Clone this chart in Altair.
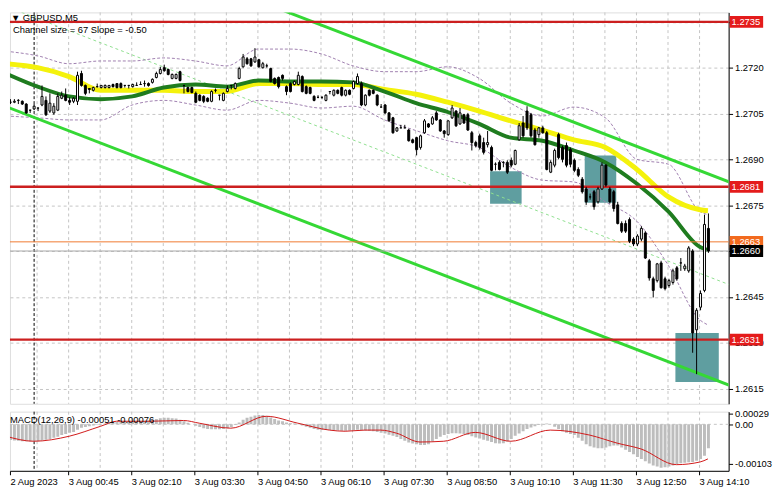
import altair as alt
import pandas as pd

FONT = "Liberation Sans"

# ---------------- candles (GBPUSD M5), bar index 0..178 ----------------
opens = [
    1.27090, 1.27087, 1.27087, 1.27093, 1.27090, 1.27081, 1.27061, 1.27065, 1.27068, 1.27078,
    1.27093, 1.27058, 1.27052, 1.27061, 1.27100, 1.27110, 1.27093, 1.27090, 1.27090, 1.27181,
    1.27142, 1.27132, 1.27126, 1.27138, 1.27135, 1.27135, 1.27135, 1.27145, 1.27148, 1.27148,
    1.27142, 1.27142, 1.27138, 1.27142, 1.27145, 1.27148, 1.27148, 1.27152, 1.27168, 1.27181,
    1.27200, 1.27194, 1.27165, 1.27165, 1.27187, 1.27142, 1.27135, 1.27135, 1.27116, 1.27110,
    1.27106, 1.27100, 1.27090, 1.27126, 1.27110, 1.27093, 1.27122, 1.27142, 1.27132, 1.27165,
    1.27203, 1.27229, 1.27229, 1.27219, 1.27226, 1.27200, 1.27206, 1.27197, 1.27165, 1.27168,
    1.27175, 1.27138, 1.27148, 1.27145, 1.27145, 1.27171, 1.27138, 1.27135, 1.27106, 1.27103,
    1.27103, 1.27093, 1.27122, 1.27110, 1.27126, 1.27135, 1.27110, 1.27126, 1.27132, 1.27148,
    1.27148, 1.27078, 1.27126, 1.27126, 1.27110, 1.27071, 1.27078, 1.27052, 1.27036, 1.26993,
    1.27003, 1.27003, 1.26996, 1.26964, 1.26971, 1.26939, 1.26987, 1.27016, 1.27016, 1.27052,
    1.27029, 1.26993, 1.26981, 1.27036, 1.27058, 1.27016, 1.27046, 1.27046, 1.26987, 1.26955,
    1.26977, 1.26955, 1.26948, 1.26939, 1.26884, 1.26890, 1.26890, 1.26890, 1.26897, 1.26884,
    1.26964, 1.27019, 1.27058, 1.27046, 1.26996, 1.26981, 1.27003, 1.26987, 1.26858, 1.26881,
    1.26981, 1.26939, 1.26945, 1.26932, 1.26897, 1.26867, 1.26835, 1.26803, 1.26777, 1.26794,
    1.26761, 1.26803, 1.26881, 1.26803, 1.26794, 1.26751, 1.26690, 1.26690, 1.26703, 1.26639,
    1.26623, 1.26639, 1.26659, 1.26568, 1.26509, 1.26503, 1.26561, 1.26509, 1.26487, 1.26497,
    1.26545, 1.26561, 1.26542, 1.26535, 1.26600, 1.26342, 1.26416, 1.26471, 1.26674,
]
closes = [
    1.27090, 1.27087, 1.27090, 1.27093, 1.27081, 1.27052, 1.27061, 1.27074, 1.27068, 1.27106,
    1.27046, 1.27084, 1.27074, 1.27106, 1.27110, 1.27093, 1.27087, 1.27100, 1.27175, 1.27142,
    1.27116, 1.27129, 1.27135, 1.27138, 1.27142, 1.27142, 1.27142, 1.27138, 1.27135, 1.27135,
    1.27142, 1.27142, 1.27145, 1.27142, 1.27145, 1.27148, 1.27142, 1.27162, 1.27181, 1.27194,
    1.27190, 1.27178, 1.27178, 1.27178, 1.27158, 1.27142, 1.27122, 1.27119, 1.27087, 1.27093,
    1.27090, 1.27090, 1.27122, 1.27126, 1.27110, 1.27116, 1.27132, 1.27142, 1.27148, 1.27197,
    1.27235, 1.27213, 1.27206, 1.27235, 1.27203, 1.27213, 1.27206, 1.27155, 1.27148, 1.27138,
    1.27165, 1.27122, 1.27122, 1.27155, 1.27175, 1.27122, 1.27116, 1.27116, 1.27093, 1.27103,
    1.27103, 1.27110, 1.27122, 1.27126, 1.27116, 1.27110, 1.27126, 1.27113, 1.27155, 1.27171,
    1.27078, 1.27110, 1.27110, 1.27116, 1.27078, 1.27071, 1.27052, 1.27026, 1.26987, 1.27003,
    1.27003, 1.27003, 1.26961, 1.26955, 1.26932, 1.26977, 1.27026, 1.27006, 1.27036, 1.27029,
    1.26993, 1.26984, 1.27026, 1.27068, 1.27010, 1.27052, 1.27019, 1.26996, 1.26955, 1.26945,
    1.26939, 1.26923, 1.26955, 1.26864, 1.26884, 1.26867, 1.26890, 1.26858, 1.26881, 1.26929,
    1.27010, 1.26977, 1.27003, 1.26977, 1.26948, 1.27003, 1.26987, 1.26867, 1.26890, 1.26929,
    1.26906, 1.26900, 1.26881, 1.26884, 1.26864, 1.26848, 1.26794, 1.26761, 1.26777, 1.26745,
    1.26803, 1.26881, 1.26816, 1.26761, 1.26739, 1.26690, 1.26665, 1.26665, 1.26632, 1.26623,
    1.26649, 1.26674, 1.26577, 1.26512, 1.26471, 1.26558, 1.26480, 1.26477, 1.26503, 1.26535,
    1.26509, 1.26561, 1.26551, 1.26610, 1.26332, 1.26406, 1.26461, 1.26687, 1.26600,
]
highs = [
    1.27097, 1.27097, 1.27097, 1.27097, 1.27093, 1.27084, 1.27061, 1.27081, 1.27068, 1.27142,
    1.27106, 1.27116, 1.27084, 1.27116, 1.27122, 1.27132, 1.27103, 1.27103, 1.27187, 1.27190,
    1.27145, 1.27132, 1.27138, 1.27148, 1.27142, 1.27145, 1.27142, 1.27148, 1.27148, 1.27152,
    1.27142, 1.27142, 1.27148, 1.27152, 1.27155, 1.27158, 1.27152, 1.27165, 1.27187, 1.27203,
    1.27210, 1.27197, 1.27181, 1.27181, 1.27190, 1.27142, 1.27138, 1.27138, 1.27122, 1.27113,
    1.27110, 1.27103, 1.27126, 1.27132, 1.27110, 1.27119, 1.27142, 1.27142, 1.27152, 1.27203,
    1.27245, 1.27235, 1.27232, 1.27264, 1.27229, 1.27219, 1.27213, 1.27200, 1.27168, 1.27171,
    1.27178, 1.27142, 1.27152, 1.27158, 1.27187, 1.27175, 1.27142, 1.27138, 1.27110, 1.27110,
    1.27106, 1.27113, 1.27122, 1.27129, 1.27129, 1.27138, 1.27129, 1.27129, 1.27158, 1.27181,
    1.27155, 1.27113, 1.27129, 1.27129, 1.27113, 1.27081, 1.27081, 1.27055, 1.27039, 1.27006,
    1.27013, 1.27013, 1.27000, 1.26968, 1.26974, 1.26981, 1.27032, 1.27019, 1.27042, 1.27058,
    1.27032, 1.26996, 1.27029, 1.27078, 1.27061, 1.27068, 1.27049, 1.27052, 1.26993, 1.26961,
    1.26984, 1.26971, 1.26993, 1.26945, 1.26890, 1.26897, 1.26894, 1.26897, 1.26906, 1.26932,
    1.27019, 1.27042, 1.27074, 1.27052, 1.27003, 1.27006, 1.27010, 1.26993, 1.26897, 1.26935,
    1.26987, 1.26945, 1.26955, 1.26939, 1.26903, 1.26874, 1.26842, 1.26810, 1.26788, 1.26800,
    1.26810, 1.26890, 1.26884, 1.26810, 1.26800, 1.26761, 1.26697, 1.26700, 1.26710, 1.26645,
    1.26655, 1.26681, 1.26665, 1.26574, 1.26516, 1.26561, 1.26568, 1.26516, 1.26509, 1.26542,
    1.26551, 1.26577, 1.26558, 1.26616, 1.26606, 1.26413, 1.26471, 1.26719, 1.26723,
]
lows = [
    1.27084, 1.27081, 1.27084, 1.27081, 1.27078, 1.27049, 1.27052, 1.27061, 1.27058, 1.27074,
    1.27042, 1.27052, 1.27046, 1.27058, 1.27097, 1.27090, 1.27078, 1.27084, 1.27078, 1.27138,
    1.27110, 1.27116, 1.27122, 1.27135, 1.27132, 1.27132, 1.27132, 1.27135, 1.27132, 1.27132,
    1.27135, 1.27132, 1.27135, 1.27142, 1.27145, 1.27138, 1.27138, 1.27148, 1.27165, 1.27178,
    1.27187, 1.27175, 1.27162, 1.27162, 1.27155, 1.27116, 1.27119, 1.27116, 1.27084, 1.27090,
    1.27084, 1.27087, 1.27087, 1.27119, 1.27093, 1.27090, 1.27119, 1.27129, 1.27129, 1.27162,
    1.27200, 1.27210, 1.27203, 1.27216, 1.27200, 1.27197, 1.27200, 1.27152, 1.27145, 1.27132,
    1.27158, 1.27110, 1.27119, 1.27142, 1.27142, 1.27119, 1.27113, 1.27113, 1.27090, 1.27100,
    1.27097, 1.27090, 1.27113, 1.27106, 1.27113, 1.27106, 1.27106, 1.27110, 1.27129, 1.27145,
    1.27074, 1.27074, 1.27106, 1.27113, 1.27074, 1.27071, 1.27049, 1.27023, 1.26984, 1.26990,
    1.27003, 1.27003, 1.26958, 1.26952, 1.26913, 1.26932, 1.26984, 1.27003, 1.27013, 1.27026,
    1.26990, 1.26971, 1.26977, 1.27032, 1.27006, 1.27013, 1.27016, 1.26993, 1.26929, 1.26939,
    1.26932, 1.26916, 1.26939, 1.26861, 1.26864, 1.26864, 1.26874, 1.26852, 1.26874, 1.26881,
    1.26961, 1.26971, 1.26996, 1.26971, 1.26945, 1.26971, 1.26984, 1.26864, 1.26855, 1.26874,
    1.26900, 1.26890, 1.26874, 1.26874, 1.26858, 1.26842, 1.26788, 1.26751, 1.26768, 1.26735,
    1.26755, 1.26800, 1.26810, 1.26755, 1.26729, 1.26687, 1.26659, 1.26659, 1.26626, 1.26616,
    1.26616, 1.26632, 1.26574, 1.26503, 1.26448, 1.26497, 1.26477, 1.26471, 1.26480, 1.26490,
    1.26503, 1.26535, 1.26535, 1.26529, 1.26267, 1.26197, 1.26406, 1.26465, 1.26594,
]
bar_index = list(range(len(closes)))

# ---------------- indicators ----------------
ind_index = [0, 8, 16, 24, 32, 40, 48, 56, 64, 72, 80, 88, 96, 104, 112, 120,
             128, 136, 144, 152, 160, 168, 176, 178]
ma_yellow = [1.27213, 1.27200, 1.27171, 1.27126, 1.27126, 1.27126, 1.27122, 1.27122,
             1.27148, 1.27148, 1.27145, 1.27145, 1.27129, 1.27113, 1.27087, 1.27058,
             1.27026, 1.26996, 1.26964, 1.26939, 1.26867, 1.26777, 1.26735, 1.26732]
ma_green = [1.27181, 1.27138, 1.27106, 1.27097, 1.27106, 1.27135, 1.27145, 1.27138,
            1.27158, 1.27155, 1.27155, 1.27152, 1.27122, 1.27084, 1.27055, 1.27016,
            1.26971, 1.26961, 1.26929, 1.26890, 1.26820, 1.26729, 1.26613, 1.26603]
band_upper = [1.27254, 1.27239, 1.27213, 1.27222, 1.27222, 1.27232, 1.27222, 1.27206,
              1.27261, 1.27261, 1.27245, 1.27206, 1.27187, 1.27187, 1.27203, 1.27165,
              1.27084, 1.27042, 1.27071, 1.27036, 1.26900, 1.26884, 1.26729, 1.26719]
band_lower = [1.27042, 1.27036, 1.27029, 1.27029, 1.27078, 1.27093, 1.27078, 1.27061,
              1.27093, 1.27084, 1.27068, 1.27074, 1.27029, 1.26994, 1.26961, 1.26939,
              1.26874, 1.26832, 1.26826, 1.26761, 1.26697, 1.26552, 1.26374, 1.26358]

# regression channel (two end points each)
chan_upper_i = [65.75, 184.0]
chan_upper_p = [1.27410, 1.26823]
chan_lower_i = [-0.25, 184.0]
chan_lower_p = [1.27074, 1.26158]
chan_mid_i = [-0.25, 184.0]
chan_mid_p = [1.27402, 1.26487]

# shaded zones
zone_i1 = [122.75, 146.75, 169.75]
zone_i2 = [130.75, 154.75, 180.75]
zone_p1 = [1.26861, 1.26913, 1.26332]
zone_p2 = [1.26755, 1.26758, 1.26171]

# horizontal levels
red_levels = [1.2735, 1.2681, 1.2631]
ask_level = [1.2663]
bid_level = [1.2660]
tag_prices = [1.2735, 1.2681, 1.2663, 1.2660, 1.2631]
tag_texts = ["1.2735", "1.2681", "1.2663", "1.2660", "1.2631"]
tag_colors = ["#e41b1b", "#e41b1b", "#f26a1e", "#000000", "#e41b1b"]

price_ticks = [1.2615, 1.2630, 1.2645, 1.2660, 1.2675, 1.2690, 1.2705, 1.2720, 1.2735]
covered_ticks = [1.2660, 1.2735]   # hidden behind the price tags

# time axis
grid_i = [7.75, 15.75, 23.75, 31.75, 39.75, 47.75, 55.75, 63.75, 71.75, 79.75, 87.75,
          95.75, 103.75, 111.75, 119.75, 127.75, 135.75, 143.75, 151.75, 159.75,
          167.75, 175.75]
separator_i = [7]
time_pos = [1, 15.75, 31.75, 47.75, 63.75, 79.75, 95.75, 111.75, 127.75, 143.75,
            159.75, 175.75]
time_labels = ["2 Aug 2023", "3 Aug 00:45", "3 Aug 02:10", "3 Aug 03:30", "3 Aug 04:50",
               "3 Aug 06:10", "3 Aug 07:30", "3 Aug 08:50", "3 Aug 10:10", "3 Aug 11:30",
               "3 Aug 12:50", "3 Aug 14:10"]

# ---------------- MACD ----------------
macd_hist = [
    -0.00040, -0.00041, -0.00042, -0.00043, -0.00044, -0.00044, -0.00045, -0.00044, -0.00044, -0.00042,
    -0.00040, -0.00038, -0.00035, -0.00032, -0.00028, -0.00025, -0.00022, -0.00020, -0.00014, -0.00009,
    -0.00007, -0.00005, -0.00003, -0.00001, 0.00000, 0.00002, 0.00004, 0.00005, 0.00006, 0.00007,
    0.00008, 0.00008, 0.00008, 0.00008, 0.00008, 0.00009, 0.00010, 0.00012, 0.00014, 0.00016,
    0.00017, 0.00017, 0.00016, 0.00015, 0.00012, 0.00008, 0.00004, 0.00000, -0.00004, -0.00007,
    -0.00010, -0.00012, -0.00013, -0.00013, -0.00013, -0.00012, -0.00010, -0.00007, -0.00002, 0.00005,
    0.00012, 0.00017, 0.00020, 0.00023, 0.00024, 0.00024, 0.00022, 0.00018, 0.00014, 0.00010,
    0.00008, 0.00005, 0.00003, 0.00002, 0.00001, -0.00003, -0.00006, -0.00009, -0.00012, -0.00014,
    -0.00015, -0.00015, -0.00015, -0.00016, -0.00016, -0.00017, -0.00017, -0.00016, -0.00015, -0.00014,
    -0.00015, -0.00016, -0.00017, -0.00018, -0.00020, -0.00022, -0.00024, -0.00027, -0.00030, -0.00033,
    -0.00038, -0.00043, -0.00047, -0.00050, -0.00052, -0.00054, -0.00054, -0.00052, -0.00045, -0.00038,
    -0.00032, -0.00028, -0.00025, -0.00023, -0.00023, -0.00024, -0.00025, -0.00028, -0.00031, -0.00034,
    -0.00037, -0.00040, -0.00043, -0.00046, -0.00049, -0.00050, -0.00049, -0.00045, -0.00038, -0.00030,
    -0.00024, -0.00018, -0.00012, -0.00008, -0.00005, -0.00002, 0.00001, 0.00002, 0.00000, -0.00006,
    -0.00012, -0.00018, -0.00022, -0.00025, -0.00028, -0.00035, -0.00043, -0.00052, -0.00057, -0.00060,
    -0.00062, -0.00062, -0.00060, -0.00057, -0.00055, -0.00055, -0.00060, -0.00066, -0.00072, -0.00078,
    -0.00085, -0.00090, -0.00096, -0.00102, -0.00107, -0.00110, -0.00113, -0.00112, -0.00110, -0.00107,
    -0.00104, -0.00101, -0.00100, -0.00099, -0.00098, -0.00095, -0.00090, -0.00082, -0.00062,
]
signal_i = [0, 7, 16, 24, 28, 36, 45, 49, 57, 66, 74, 82, 86, 91, 95, 99, 105, 111, 119,
            128, 138, 148, 155, 161, 170, 176, 178]
signal_v = [-0.00031, -0.00044, -0.00031, -0.00005, 0.00008, 0.00008, 0.00010, 0.00003,
            -0.00010, 0.00021, 0.00003, -0.00015, -0.00018, -0.00015, -0.00015, -0.00023,
            -0.00046, -0.00044, -0.00021, -0.00044, -0.00015, -0.00028, -0.00049, -0.00064,
            -0.00105, -0.00098, -0.00090]
macd_tick_vals = [0.00029, 0.0, -0.00103]
macd_tick_labels = ["0.00029", "0.00", "-0.00103"]

title_text = "\u25bc GBPUSD,M5"
channel_text = "Channel size = 67 Slope = -0.50"
macd_text = "MACD(12,26,9) -0.00051 -0.00076"

# ---------------- layout ----------------
W, H_MAIN, H_MACD = 729, 397, 60
xs = alt.Scale(domain=[1, 183.25], nice=False, zero=False, padding=0)
ys = alt.Scale(domain=[1.26100, 1.27381], nice=False, zero=False, padding=0)
ms = alt.Scale(domain=[-0.00121, 0.00033], nice=False, zero=False, padding=0)

hide_expr = ("indexof([" + ",".join(repr(v) for v in covered_ticks)
             + "], datum.value) >= 0 ? '' : format(datum.value, '.4f')")
yax = alt.Axis(orient="right", values=price_ticks, labelExpr=hide_expr, title=None,
               grid=True, gridDash=[3, 3], gridColor="#c4c4c4", tickSize=4,
               tickColor="black", domainColor="black", labelFont=FONT,
               labelFontSize=9.5, labelColor="black", labelPadding=2, labelOverlap=False)


def X(field="i"):
    return alt.X(f"{field}:Q", scale=xs, axis=None)


def Y(field="p"):
    return alt.Y(f"{field}:Q", scale=ys, axis=yax)


candles = pd.DataFrame({"i": bar_index, "open": opens, "close": closes,
                        "high": highs, "low": lows})
ind = pd.DataFrame({"i": ind_index, "yel": ma_yellow, "grn": ma_green,
                    "up": band_upper, "lo": band_lower})

zones = alt.Chart(pd.DataFrame({"i": zone_i1, "i2": zone_i2, "p": zone_p1, "p2": zone_p2})).mark_rect(
    color="#5f9ea0", clip=True).encode(x=X(), x2="i2:Q", y=Y(), y2="p2:Q")

vgrid = alt.Chart(pd.DataFrame({"i": grid_i})).mark_rule(
    color="#c4c4c4", strokeDash=[3, 3], strokeWidth=1, xOffset=0.5).encode(x=X())
sep = alt.Chart(pd.DataFrame({"i": separator_i})).mark_rule(
    color="black", strokeDash=[3, 2], strokeWidth=1, xOffset=0.5).encode(x=X())


def seg(iv, pv, color, width, dash=None):
    kw = dict(color=color, strokeWidth=width, clip=True)
    if dash:
        kw["strokeDash"] = dash
    return alt.Chart(pd.DataFrame({"i": iv, "p": pv})).mark_line(**kw).encode(x=X(), y=Y())


mid_line = seg(chan_mid_i, chan_mid_p, "#8fdf8f", 1, [3, 3])
up_line = seg(chan_upper_i, chan_upper_p, "#35d835", 3)
lo_line = seg(chan_lower_i, chan_lower_p, "#35d835", 3)

band_u = alt.Chart(ind).mark_line(color="#a080b0", strokeWidth=1, strokeDash=[3, 2],
                                  interpolate="monotone", clip=True).encode(x=X(), y=Y("up"))
band_l = alt.Chart(ind).mark_line(color="#a080b0", strokeWidth=1, strokeDash=[3, 2],
                                  interpolate="monotone", clip=True).encode(x=X(), y=Y("lo"))
yel = alt.Chart(ind).mark_line(color="#f4f20c", strokeWidth=5, interpolate="monotone",
                               clip=True).encode(x=X(), y=Y("yel"))
grn = alt.Chart(ind).mark_line(color="#1f7c1f", strokeWidth=4, interpolate="monotone",
                               clip=True).encode(x=X(), y=Y("grn"))

red_rules = alt.Chart(pd.DataFrame({"p": red_levels})).mark_rule(
    color="#cc1f1f", strokeWidth=2.5).encode(y=Y())
ask_rule = alt.Chart(pd.DataFrame({"p": ask_level})).mark_rule(
    color="#f07a30", strokeWidth=1).encode(y=Y())
bid_rule = alt.Chart(pd.DataFrame({"p": bid_level})).mark_rule(
    color="#a8a8a8", strokeWidth=1).encode(y=Y())

wicks = alt.Chart(candles).mark_rule(color="black", strokeWidth=1, xOffset=0.5, clip=True).encode(
    x=X(), y=Y("low"), y2="high:Q")
bodies = alt.Chart(candles).mark_bar(size=2, stroke="black", strokeWidth=1, xOffset=0.5,
                                     clip=True).encode(
    x=X(), y=Y("open"), y2="close:Q",
    fill=alt.condition("datum.close > datum.open", alt.value("white"), alt.value("black")))

tags = pd.DataFrame({"p": tag_prices, "t": tag_texts, "c": tag_colors})
tag_box = alt.Chart(tags).mark_rect(yOffset=-6, y2Offset=6).encode(
    x=alt.value(W + 1), x2=alt.value(W + 35), y=Y(), y2="p:Q",
    fill=alt.Color("c:N", scale=None))
tag_txt = alt.Chart(tags).mark_text(align="left", baseline="middle", font=FONT,
                                    fontSize=9.5, color="white").encode(
    x=alt.value(W + 3), y=Y(), text="t:N")

title = alt.Chart(pd.DataFrame({"t": [title_text]})).mark_text(
    align="left", baseline="top", font=FONT, fontSize=9.5, color="black").encode(
    x=alt.value(1), y=alt.value(1), text="t:N")
chan_label = alt.Chart(pd.DataFrame({"t": [channel_text]})).mark_text(
    align="left", baseline="top", font=FONT, fontSize=9.5, color="black").encode(
    x=alt.value(3), y=alt.value(13), text="t:N")

main = alt.layer(vgrid, zones, sep, mid_line, band_u, band_l, up_line, lo_line, yel, grn,
                 red_rules, ask_rule, bid_rule, wicks, bodies, tag_box, tag_txt,
                 title, chan_label).properties(width=W, height=H_MAIN)

# ---------------- MACD panel ----------------
lbl_expr = ("[" + ",".join("'%s'" % s for s in time_labels) + "][indexof(["
            + ",".join(str(v) for v in time_pos) + "], datum.value)]")
xax = alt.Axis(values=time_pos, labelExpr=lbl_expr, title=None, grid=False,
               labelAlign="left", labelFlush=False, labelOverlap=False, tickSize=4,
               tickColor="black", domainColor="black", labelFont=FONT, labelFontSize=9.5,
               labelColor="black", labelPadding=2)
m_expr = ("[" + ",".join("'%s'" % s for s in macd_tick_labels) + "][indexof(["
          + ",".join(repr(v) for v in macd_tick_vals) + "], datum.value)]")
max_ = alt.Axis(orient="right", values=macd_tick_vals, labelExpr=m_expr, title=None,
                grid=False, tickSize=4, tickColor="black", domainColor="black",
                labelFont=FONT, labelFontSize=9.5, labelColor="black", labelPadding=2,
                labelOverlap=False)


def MX():
    return alt.X("i:Q", scale=xs, axis=xax)


def MY(field="v"):
    return alt.Y(f"{field}:Q", scale=ms, axis=max_)


m_vgrid = alt.Chart(pd.DataFrame({"i": grid_i})).mark_rule(
    color="#c4c4c4", strokeDash=[3, 3], strokeWidth=1, xOffset=0.5).encode(x=MX())
m_sep = alt.Chart(pd.DataFrame({"i": separator_i})).mark_rule(
    color="black", strokeDash=[3, 2], strokeWidth=1, xOffset=0.5).encode(x=MX())
m_zero = alt.Chart(pd.DataFrame({"v": [0.0]})).mark_rule(
    color="#c4c4c4", strokeDash=[3, 3], strokeWidth=1).encode(y=MY())
hist = alt.Chart(pd.DataFrame({"i": bar_index, "v": macd_hist})).mark_bar(
    size=3, color="#bdbdbd", xOffset=0.5, clip=True).encode(x=MX(), y=MY(), y2=alt.datum(0))
sig = alt.Chart(pd.DataFrame({"i": signal_i, "v": signal_v})).mark_line(
    color="#d01818", strokeWidth=1, interpolate="monotone", clip=True).encode(x=MX(), y=MY())
m_label = alt.Chart(pd.DataFrame({"t": [macd_text]})).mark_text(
    align="left", baseline="top", font=FONT, fontSize=9.5, color="black").encode(
    x=alt.value(0), y=alt.value(3), text="t:N")

macd = alt.layer(m_vgrid, m_zero, m_sep, hist, sig, m_label).properties(width=W, height=H_MACD)

chart = alt.vconcat(main, macd, spacing=3).properties(padding=0).configure_view(
    stroke="black", strokeWidth=1).configure(background="white")

chart.save("out.html", embed_options={"renderer": "svg", "actions": False})
